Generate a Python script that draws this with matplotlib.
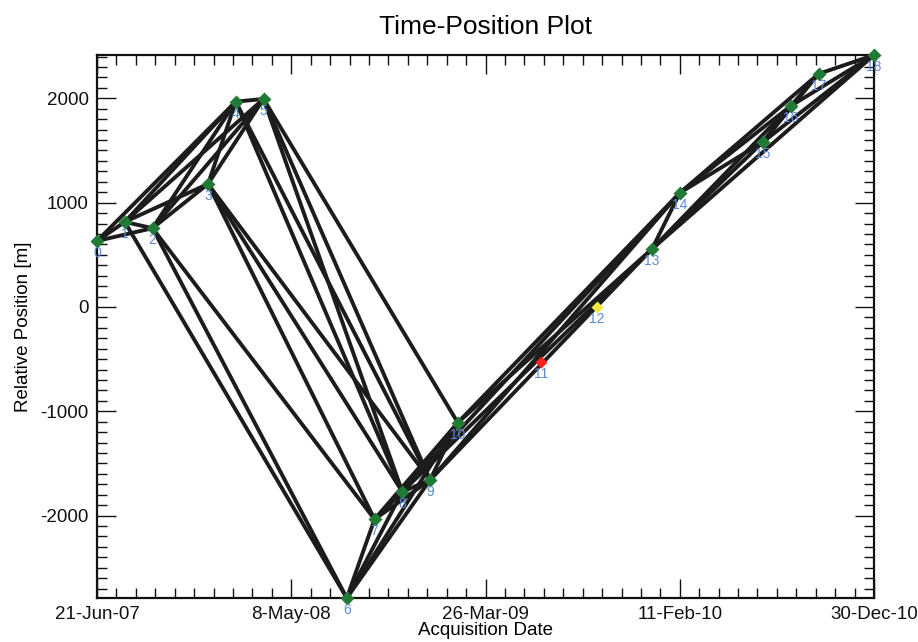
import numpy as np
import matplotlib as mplt
mplt.use("Agg")
import matplotlib.pyplot as plt
import matplotlib.dates as mdates
from matplotlib.ticker import FixedLocator, MultipleLocator

plt.rcParams["font.family"] = ["Liberation Sans", "DejaVu Sans"]
plt.rcParams["axes.unicode_minus"] = False

# acquisition days after first scene (46-day repeat) and relative positions
first_date = "2007-06-21"
days = [0, 46, 92, 184, 230, 276, 414, 460, 506, 552, 598,
        736, 828, 920, 966, 1104, 1150, 1196, 1288]
position = [633, 815, 755, 1179, 1968, 1994, -2790, -2035, -1771, -1659, -1109,
            -527, -5, 556, 1093, 1582, 1927, 2234, 2415]

# interferometric pairs (master, slave)
pair_a = [0, 0, 0, 1, 1, 1, 1, 1, 2, 2, 2, 2, 2, 3, 3, 3, 3, 3, 4, 4, 4,
          5, 5, 5, 6, 6, 6, 6, 7, 7, 7, 8, 8, 8, 8, 9, 9, 9, 10, 10,
          13, 13, 13, 13, 14, 14, 14, 15, 15, 15, 16, 16, 17]
pair_b = [1, 2, 4, 2, 3, 4, 5, 6, 3, 4, 5, 6, 7, 4, 5, 7, 8, 9, 5, 8, 9,
          8, 9, 10, 7, 8, 9, 10, 8, 9, 10, 9, 10, 13, 14, 10, 13, 14, 13, 14,
          14, 15, 16, 18, 15, 16, 17, 16, 17, 18, 17, 18, 18]

special = {11: "#ff2020", 12: "#f2e640"}

tick_dates = ["2007-06-21", "2008-05-08", "2009-03-26", "2010-02-11", "2010-12-30"]
tick_labels = ["21-Jun-07", "8-May-08", "26-Mar-09", "11-Feb-10", "30-Dec-10"]

acq = np.datetime64(first_date) + np.array(days, dtype="timedelta64[D]")
xnum = mdates.date2num(acq)
y = np.array(position, dtype=float)

fig = plt.figure(figsize=(9.18, 6.42), dpi=100)
ax = fig.add_axes([0.1057, 0.0685, 0.8464, 0.8458])

for a, b in zip(pair_a, pair_b):
    ax.plot([xnum[a], xnum[b]], [y[a], y[b]], c="#1c1c1c", lw=2.8,
            solid_capstyle="round", zorder=2, clip_on=False)

for i in range(len(xnum)):
    if i in special:
        ax.plot(xnum[i], y[i], "D", ms=6, c=special[i], mec="none",
                zorder=3, clip_on=False)
    else:
        ax.plot(xnum[i], y[i], "D", ms=7, c="#217a36", mec="none",
                zorder=3, clip_on=False)
    ax.annotate(str(i), (xnum[i], y[i]), xytext=(0, -3.5), textcoords="offset points",
                ha="center", va="top", fontsize=10, color="#5a8ad6", zorder=4,
                annotation_clip=False)

ax.set_xlim(xnum.min(), xnum.max())
ax.set_ylim(y.min(), y.max())

ax.xaxis.set_major_locator(FixedLocator(mdates.date2num(np.array(tick_dates, dtype="datetime64[D]"))))
ax.set_xticklabels(tick_labels)
ax.xaxis.set_minor_locator(FixedLocator(np.linspace(xnum.min(), xnum.max(), 41)))
ax.set_yticks([-2000, -1000, 0, 1000, 2000])
ax.yaxis.set_minor_locator(MultipleLocator(100))

ax.tick_params(which="both", direction="in", top=True, right=True, width=1.0, colors="#111111")
ax.tick_params(which="major", length=14, labelsize=13.5, pad=6)
ax.tick_params(which="minor", length=7)
for s in ax.spines.values():
    s.set_linewidth(1.6)
    s.set_color("#111111")

ax.set_xlabel("Acquisition Date", fontsize=13.5, labelpad=-1)
ax.set_ylabel("Relative Position [m]", fontsize=13.5, labelpad=6)
ax.set_title("Time-Position Plot", fontsize=19, pad=15)

fig.savefig("out.png", dpi=100)
